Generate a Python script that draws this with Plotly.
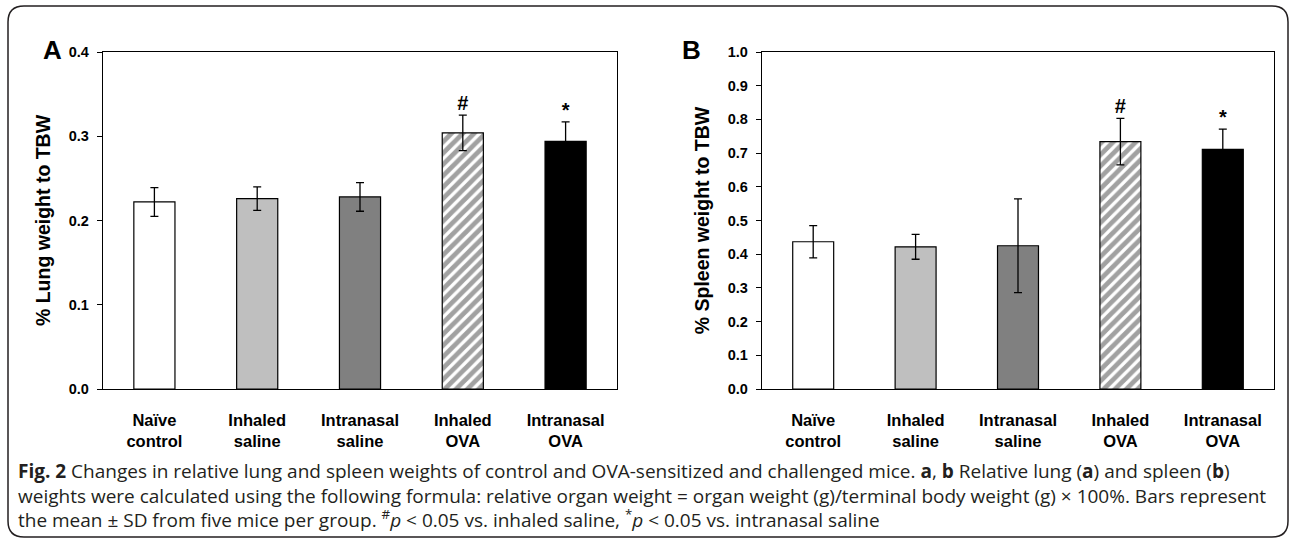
import plotly.graph_objects as go

categories = ["Naïve<br>control", "Inhaled<br>saline", "Intranasal<br>saline", "Inhaled<br>OVA", "Intranasal<br>OVA"]
lung_mean = [0.222, 0.226, 0.228, 0.304, 0.294]
lung_sd = [0.017, 0.014, 0.017, 0.021, 0.023]
spleen_mean = [0.437, 0.422, 0.425, 0.734, 0.711]
spleen_sd = [0.048, 0.037, 0.139, 0.069, 0.060]
bar_colors = ["#ffffff", "#bfbfbf", "#808080", "#ffffff", "#000000"]
bar_patterns = ["", "", "", "/", ""]
sig_marks = ["", "", "", "#", "*"]

W, H = 1292, 540
FONT = "Liberation Sans"

def px(x):
    return x / W

def py(y):
    return 1 - y / H

fig = go.Figure()

for i, (means, sds) in enumerate([(lung_mean, lung_sd), (spleen_mean, spleen_sd)]):
    xa = "x" if i == 0 else "x2"
    ya = "y" if i == 0 else "y2"
    fig.add_trace(go.Bar(
        x=categories, y=means, xaxis=xa, yaxis=ya, width=0.4,
        marker=dict(color=bar_colors, line=dict(color="#000000", width=1.2),
                    pattern=dict(shape=bar_patterns, fgcolor="#000000", bgcolor="#ffffff",
                                 size=8, solidity=0.6, fillmode="overlay")),
        error_y=dict(type="data", array=sds, visible=True, color="#000000", thickness=1.3, width=4),
        showlegend=False, hoverinfo="skip",
    ))
    idx = [k for k, m in enumerate(sig_marks) if m]
    fig.add_trace(go.Scatter(
        x=[categories[k] for k in idx], y=[means[k] + sds[k] for k in idx], xaxis=xa, yaxis=ya,
        mode="text", text=["<b>" + sig_marks[k] + "</b>" for k in idx], textposition="top center",
        textfont=dict(family=FONT, size=20, color="#000000"),
        showlegend=False, hoverinfo="skip", cliponaxis=False,
    ))

axis_font = dict(family=FONT, size=14.5, color="#000000")
cat_font = dict(family=FONT, size=16.5, color="#000000")
common_x = dict(showline=True, linecolor="#000000", linewidth=1.3, mirror=True, ticks="",
                tickfont=cat_font, automargin=False, showgrid=False, ticklabelstandoff=16,
                tickvals=categories, ticktext=["<b>" + c + "</b>" for c in categories])
common_y = dict(showline=True, linecolor="#000000", linewidth=1.3, mirror=True, ticks="outside",
                ticklen=5, tickcolor="#000000", tickfont=axis_font, automargin=False,
                showgrid=False, zeroline=False, ticklabelstandoff=5)
title_font = dict(family=FONT, size=19.5, color="#000000")

fig.update_layout(
    width=W, height=H, margin=dict(l=0, r=0, t=0, b=0),
    paper_bgcolor="#ffffff", plot_bgcolor="#ffffff",
    xaxis=dict(domain=[px(103), px(617)], anchor="y", **common_x),
    yaxis=dict(domain=[py(389), py(52)], anchor="x", range=[0, 0.4], dtick=0.1, tickformat=".1f",
               tickprefix="<b>", ticksuffix="</b>",
               title=dict(text="<b>% Lung weight to TBW</b>", font=title_font, standoff=12),
               **common_y),
    xaxis2=dict(domain=[px(762), px(1274)], anchor="y2", **common_x),
    yaxis2=dict(domain=[py(389), py(52)], anchor="x2", range=[0, 1.0], dtick=0.1, tickformat=".1f",
                tickprefix="<b>", ticksuffix="</b>",
                title=dict(text="<b>% Spleen weight to TBW</b>", font=title_font, standoff=12),
                **common_y),
)

# panel letters
for letter, x in [("A", 41), ("B", 691)]:
    fig.add_annotation(text="<b>" + letter + "</b>", x=px(x), y=py(33), xref="paper", yref="paper",
                       showarrow=False, font=dict(family=FONT, size=26, color="#000000"))

caption_lines = [
    "<b>Fig. 2</b> Changes in relative lung and spleen weights of control and OVA-sensitized and challenged mice. <b>a</b>, <b>b</b> Relative lung (<b>a</b>) and spleen (<b>b</b>)",
    "weights were calculated using the following formula: relative organ weight = organ weight (g)/terminal body weight (g) × 100%. Bars represent",
    "the mean ± SD from five mice per group. <sup>#</sup><i>p</i> < 0.05 vs. inhaled saline, <sup>*</sup><i>p</i> < 0.05 vs. intranasal saline",
]
fig.add_annotation(text="<br>".join(caption_lines), x=px(16), y=py(456), xref="paper", yref="paper",
                   xanchor="left", yanchor="top", showarrow=False, align="left",
                   font=dict(family="Open Sans", size=19, color="#231f20"))

# rounded border around the figure
r = 16
x0, y0, x1, y1 = 8, 6, 1288, 537
path = (f"M {px(x0 + r)} {py(y0)} L {px(x1 - r)} {py(y0)} Q {px(x1)} {py(y0)} {px(x1)} {py(y0 + r)} "
        f"L {px(x1)} {py(y1 - r)} Q {px(x1)} {py(y1)} {px(x1 - r)} {py(y1)} "
        f"L {px(x0 + r)} {py(y1)} Q {px(x0)} {py(y1)} {px(x0)} {py(y1 - r)} "
        f"L {px(x0)} {py(y0 + r)} Q {px(x0)} {py(y0)} {px(x0 + r)} {py(y0)} Z")
fig.add_shape(type="path", path=path, xref="paper", yref="paper", line=dict(color="#231f20", width=1.5))

fig.write_html("out.html")
